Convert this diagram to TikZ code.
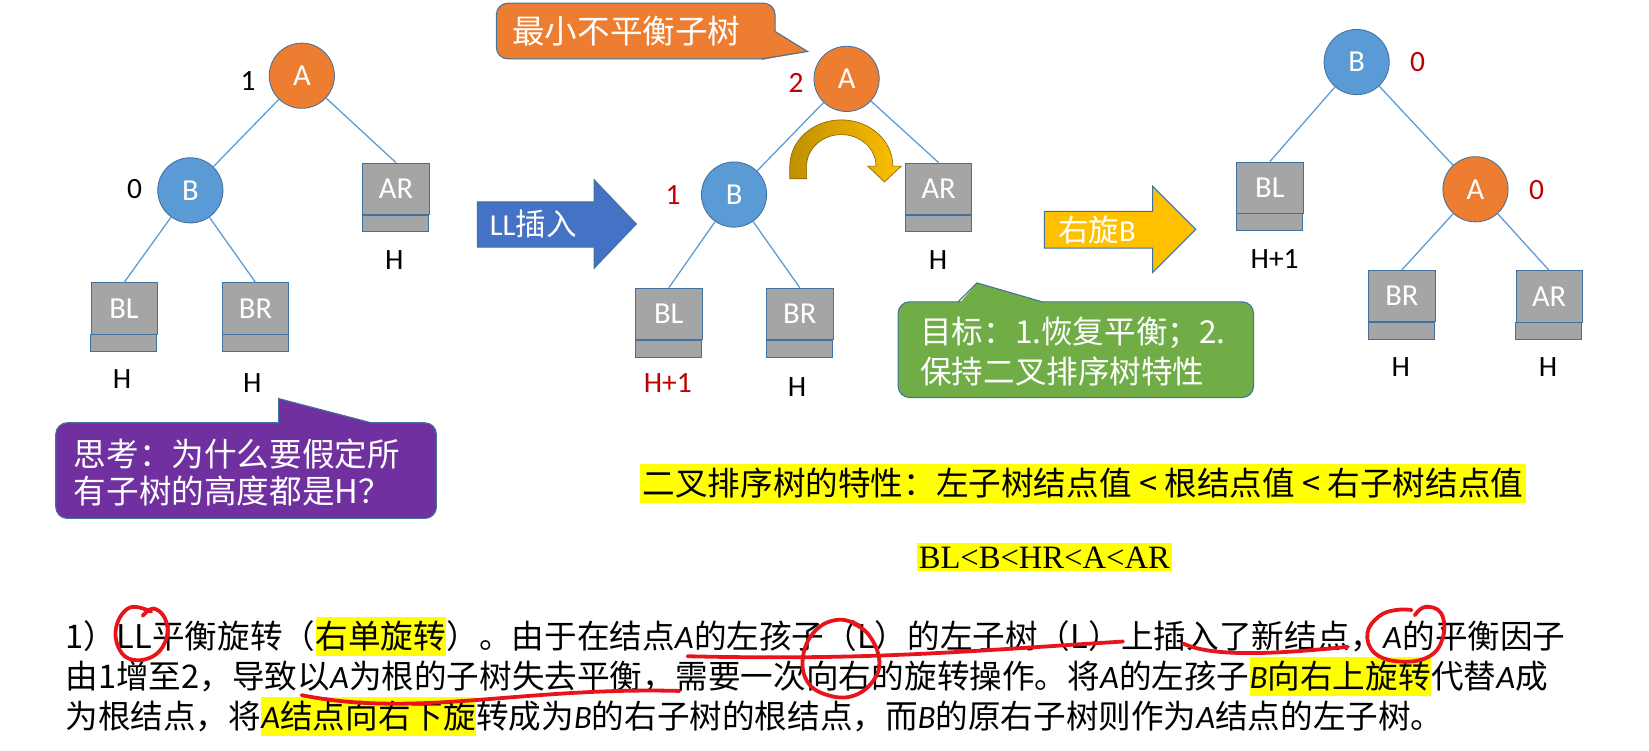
\documentclass[tikz,border=0pt]{standalone}
\usepackage{fontspec}
\setmainfont{Noto Sans CJK SC}
\newfontfamily\lat{Carlito}
\newfontfamily\tms{Liberation Serif}
\usetikzlibrary{calc}

\definecolor{nodeorange}{HTML}{ED7D31}
\definecolor{nodeblue}{HTML}{5B9BD5}
\definecolor{boxgray}{HTML}{A5A5A5}
\definecolor{boxedge}{HTML}{41719C}
\definecolor{factorred}{HTML}{C00000}
\definecolor{thinkpurple}{HTML}{7030A0}
\definecolor{goalgreen}{HTML}{70AD47}
\definecolor{insblue}{HTML}{4472C4}
\definecolor{rotgold}{HTML}{FFC000}
\definecolor{darkgold}{HTML}{BF9000}
\definecolor{marker}{HTML}{FFFF00}
\definecolor{penred}{HTML}{E8141B}

\newcommand{\itl}[1]{{\lat\itshape #1}}
\newcommand{\hlstrut}{\rule[-7pt]{0pt}{37pt}}

\tikzset{
  avl/.style={circle, minimum size=62pt, inner sep=0pt, draw=boxedge, line width=0.8pt, text=white, font=\lat\fontsize{29}{29}\selectfont},
  nodeA/.style={avl, fill=nodeorange},
  nodeB/.style={avl, fill=nodeblue},
  subbox/.style={rectangle, minimum width=63pt, minimum height=49pt, inner sep=0pt, fill=boxgray, draw=boxedge, line width=0.8pt, text=white, font=\lat\fontsize{29}{29}\selectfont},
  strip/.style={fill=boxgray, draw=boxedge, line width=0.8pt},
  link/.style={draw=nodeblue, line width=1.2pt},
  hgt/.style={inner sep=0pt, font=\lat\fontsize{28}{28}\selectfont},
  redhgt/.style={hgt, text=factorred},
  callout/.style={draw=boxedge, line width=1pt, rounded corners=11pt},
  calloutedge/.style={draw=boxedge, line width=1pt},
  calltxt/.style={inner sep=0pt, anchor=west, align=left, text=white},
  blockarrow/.style={draw=boxedge, line width=1pt},
  arrowtxt/.style={inner sep=0pt, text=white, font=\fontsize{29}{29}\selectfont},
  txt/.style={inner sep=0pt, anchor=base west, font=\fontsize{31}{37}\selectfont},
  hl/.style={txt, fill=marker},
  pen/.style={draw=penred, line width=3.6pt, line cap=round, line join=round},
}

\begin{document}
\begin{tikzpicture}[x=1pt, y=-1pt]
\fill[white] (0,0) rectangle (1568,714);
\useasboundingbox (0,0) rectangle (1568,714);

% left tree: before insertion
\node[nodeA] (A1) at (287,72) {A};
\node[nodeB] (B1) at (181,181) {B};
\node[subbox] (AR1) at (376.5,179.5) {AR};
\node[subbox] (BL1) at (118,293.5) {BL};
\node[subbox] (BR1) at (243,293.5) {BR};
\draw[link] (A1) -- (B1);
\draw[link] (A1) -- (AR1.north);
\draw[link] (B1) -- (BL1.north);
\draw[link] (B1) -- (BR1.north);
\node[hgt] (fA1) at (236,77) {1};
\node[hgt] (fB1) at (128,180) {0};
\node[hgt] (hAR1) at (375,247) {H};
\node[hgt] (hBL1) at (116,360) {H};
\node[hgt] (hBR1) at (240,364) {H};

% middle tree: after LL insertion
\node[nodeA] (A2) at (805,75) {A};
\node[nodeB] (B2) at (698,185) {B};
\node[subbox] (AR2) at (892.5,179.5) {AR};
\node[subbox] (BL2) at (636,298.5) {BL};
\node[subbox] (BR2) at (760.5,298.5) {BR};
\draw[link] (A2) -- (B2);
\draw[link] (A2) -- (AR2.north);
\draw[link] (B2) -- (BL2.north);
\draw[link] (B2) -- (BR2.north);
\node[redhgt] (fA2) at (757,79) {2};
\node[redhgt] (fB2) at (640,185) {1};
\node[hgt] (hAR2) at (892,247) {H};
\node[redhgt] (hBL2) at (635,364) {H+1};
\node[hgt] (hBR2) at (758,368) {H};

% right tree: after rotation
\node[nodeB] (B3) at (1290,59) {B};
\node[nodeA] (A3) at (1403,180) {A};
\node[subbox] (BL3) at (1207.5,178.5) {BL};
\node[subbox] (BR3) at (1333,281.5) {BR};
\node[subbox] (AR3) at (1473,282) {AR};
\draw[link] (B3) -- (BL3.north);
\draw[link] (B3) -- (A3);
\draw[link] (A3) -- (BR3.north);
\draw[link] (A3) -- (AR3.north);
\node[redhgt] (fB3) at (1348,59) {0};
\node[redhgt] (fA3) at (1461,181) {0};
\node[hgt] (hBL3) at (1212,246) {H+1};
\node[hgt] (hBR3) at (1332,349) {H};
\node[hgt] (hAR3) at (1472,349) {H};

\foreach \t in {AR1,BL1,BR1,AR2,BL2,BR2,BL3,BR3,AR3}
  \draw[strip] (\t.south west) rectangle ++(63,16);

% rotation arc over A
\draw[left color=darkgold, right color=rotgold, draw=darkgold!70!black, line width=0.6pt]
  (751,170) -- (751,158) arc[start angle=180, end angle=360, x radius=49, y radius=44]
  -- (857,158) -- (841,173) -- (825,158) -- (833,158)
  arc[start angle=360, end angle=180, x radius=33, y radius=30] -- (767,170) -- cycle;

% block arrows
\draw[blockarrow, fill=insblue] (454,192) -- (565,192) -- (565,171) -- (605,213)
  -- (565,255) -- (565,235) -- (454,235) -- cycle;
\node[arrowtxt] (ins) at (507,213) {{\lat LL}插入};
\draw[blockarrow, fill=rotgold] (993,201) -- (1096,201) -- (1096,177) -- (1137,218)
  -- (1096,259) -- (1096,236) -- (993,236) -- cycle;
\node[arrowtxt] (rot) at (1043,219) {右旋{\lat B}};

% callouts
\draw[callout, fill=nodeorange] (472,3) rectangle (737,56);
\fill[nodeorange] (733,30) -- (738,30) -- (768,49) -- (724,57) -- (724,52) -- cycle;
\draw[calloutedge] (737,30) -- (768,49) -- (724,56);
\node[calltxt, font=\fontsize{31}{36}\selectfont] (small) at (487,30) {最小不平衡子树};

\draw[callout, fill=thinkpurple] (53,402) rectangle (415,493);
\fill[thinkpurple] (265,405) -- (265,379) -- (353,402) -- (353,405) -- cycle;
\draw[calloutedge] (265,402) -- (265,379) -- (353,402);
\node[calltxt, font=\fontsize{31}{35}\selectfont] (think) at (70,449) {思考：为什么要假定所\\有子树的高度都是H？};

\draw[callout, fill=goalgreen] (854,287) rectangle (1192,378);
\fill[goalgreen] (911,290) -- (929,269) -- (991,287) -- (991,290) -- cycle;
\draw[calloutedge] (911,287) -- (929,269) -- (991,287);
\node[calltxt, font=\fontsize{30}{38}\selectfont] (goal) at (875,334) {目标：1.恢复平衡；2.\\保持二叉排序树特性};

% property of the search tree
\node[fill=marker, inner xsep=3pt, inner ysep=0pt, anchor=west, font=\fontsize{31}{37}\selectfont] (prop) at (608,460)
  {\hlstrut 二叉排序树的特性：左子树结点值 < 根结点值 < 右子树结点值};
\node[fill=marker, inner xsep=2pt, inner ysep=3pt, font=\tms\fontsize{31}{31}\selectfont] (order) at (993,530) {BL<B<HR<A<AR};

% explanation text
\node[txt] (l1a) at (62,617) {1）};
\node[txt] (l1b) at (l1a.base east) {LL};
\node[txt] (l1c) at (l1b.base east) {平衡旋转（};
\node[hl] (l1d) at (l1c.base east) {\hlstrut 右单旋转};
\node[txt] (l1e) at (l1d.base east) {）。由于在结点\itl{A}};
\node[txt] (l1f) at (l1e.base east) {的左孩子（L）的左子树（L）};
\node[txt] (l1g) at (l1f.base east) {上插};
\node[txt] (l1h) at (l1g.base east) {入了新结点};
\node[txt] (l1i) at (l1h.base east) {，};
\node[txt] (l1j) at (l1i.base east) {\itl{A}};
\node[txt] (l1k) at (l1j.base east) {的平衡因子};

\node[txt] (l2a) at (62,655) {由1增至2，导致};
\node[txt] (l2b) at (l2a.base east) {以\itl{A}为根的子树失去平衡，};
\node[txt] (l2c) at (l2b.base east) {需要一次};
\node[txt] (l2d) at (l2c.base east) {向右};
\node[txt] (l2e) at (l2d.base east) {的旋转操作。将\itl{A}的左孩子};
\node[hl] (l2f) at (l2e.base east) {\hlstrut\itl{B}向右上旋转};
\node[txt] (l2g) at (l2f.base east) {代替\itl{A}成};

\node[txt] (l3a) at (62,693) {为根结点，将};
\node[hl] (l3b) at (l3a.base east) {\hlstrut\itl{A}结点向右下旋};
\node[txt] (l3c) at (l3b.base east) {转成为\itl{B}的右子树的根结点，而\itl{B}的原右子树则作为\itl{A}结点的左子树。};

% red pen marks
\draw[pen, shift={(l1b.center)}] plot[smooth, tension=0.7] coordinates
  {(16,-24) (-4,-28) (-17,-10) (-14,12) (0,22) (20,17) (31,0) (29,-18) (18,-27) (8,-20)};
\draw[pen] ($(l1f.base west)+(-6,7)$) .. controls +(170,4) and +(-160,10) .. ($(l1f.base east)+(2,-7)$);
\draw[pen] ($(l1h.base west)+(-3,-5)$) .. controls +(30,14) and +(-60,6) .. ($(l1h.base east)+(-2,-2)$);
\draw[pen, shift={(l1j.center)}] plot[smooth, tension=0.7] coordinates
  {(21,-22) (31,-30) (46,-24) (48,-2) (35,17) (7,22) (-17,14) (-24,-5) (-13,-21) (3,-27) (18,-27)};
\draw[pen] ($(l2b.base west)+(4,6)$) .. controls +(110,22) and +(-150,-4) .. ($(l2b.base east)+(4,2)$);
\draw[pen, shift={(l2d.center)}] plot[smooth, tension=0.7] coordinates
  {(20,-48) (0,-54) (-22,-44) (-34,-20) (-30,5) (-10,18) (15,18) (34,2) (38,-18) (28,-40) (14,-50)};
\end{tikzpicture}
\end{document}
